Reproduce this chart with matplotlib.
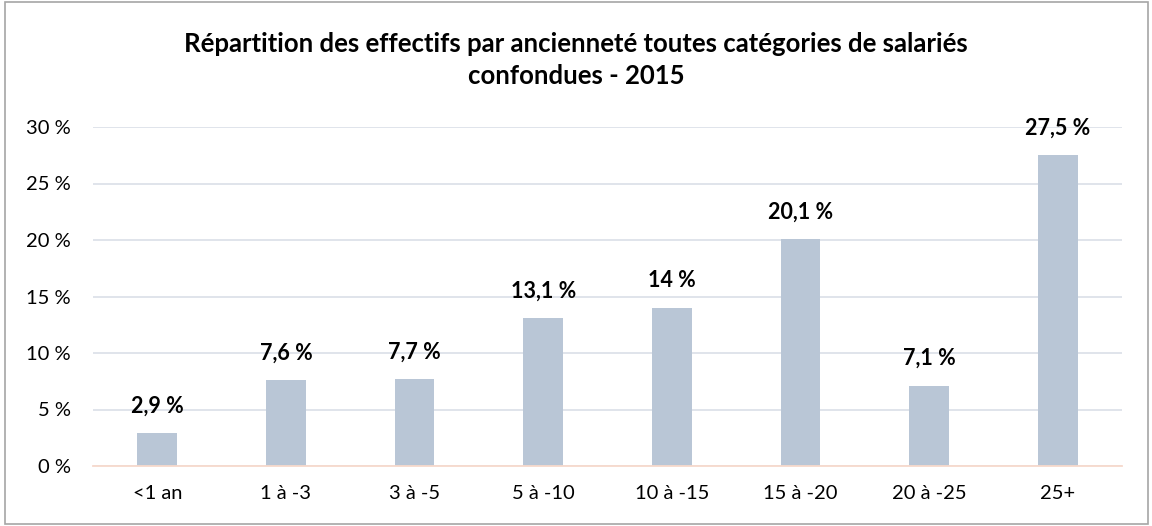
import matplotlib
matplotlib.use("Agg")
import matplotlib.pyplot as plt
from matplotlib.patches import Rectangle

categories = ["<1 an", "1 à -3", "3 à -5", "5 à -10", "10 à -15", "15 à -20", "20 à -25", "25+"]
values = [2.9, 7.6, 7.7, 13.1, 14.0, 20.1, 7.1, 27.5]
value_labels = ["2,9 %", "7,6 %", "7,7 %", "13,1 %", "14 %", "20,1 %", "7,1 %", "27,5 %"]
yticks = [0, 5, 10, 15, 20, 25, 30]
ytick_labels = ["0 %", "5 %", "10 %", "15 %", "20 %", "25 %", "30 %"]
title = "Répartition des effectifs par ancienneté toutes catégories de salariés\nconfondues - 2015"

plt.rcParams['font.family'] = ['Lato', 'DejaVu Sans']

fig = plt.figure(figsize=(11.52, 5.26), dpi=100)
ax = fig.add_axes([93/1152, 1-466/526, (1122-93)/1152, (466-127)/526])

x = list(range(len(categories)))
ax.bar(x, values, width=0.31, color="#B9C6D6", zorder=2)
for xi, v, lab in zip(x, values, value_labels):
    ax.annotate(lab, (xi, v), xytext=(0, 12), textcoords="offset points",
                ha="center", va="bottom", fontsize=15.5, fontweight="bold",
                color="#000000", annotation_clip=False)

ax.set_xlim(-0.5, len(categories)-0.5)
ax.set_ylim(0, 30)
ax.set_yticks(yticks)
ax.set_yticklabels(ytick_labels, fontsize=14.5)
ax.set_xticks(x)
ax.set_xticklabels(categories, fontsize=14.5)
ax.tick_params(axis="x", length=0, pad=14)
ax.tick_params(axis="y", length=0, pad=16)
ax.yaxis.grid(True, color="#DDE2E9", linewidth=1.3, zorder=0)
ax.set_axisbelow(True)
for s in ["top", "right", "left"]:
    ax.spines[s].set_visible(False)
ax.spines["bottom"].set_color("#F7D9CC")
ax.spines["bottom"].set_linewidth(1.3)

fig.text(0.5, 1-60/526, title, ha="center", va="center", fontsize=18.5,
         fontweight="bold", linespacing=1.4)

fig.patches.append(Rectangle((5/1152, 2/526), 1143/1152, 522/526, transform=fig.transFigure,
                             fill=False, edgecolor="#A6A6A6", linewidth=1.2))

fig.savefig("out.png", dpi=100)
